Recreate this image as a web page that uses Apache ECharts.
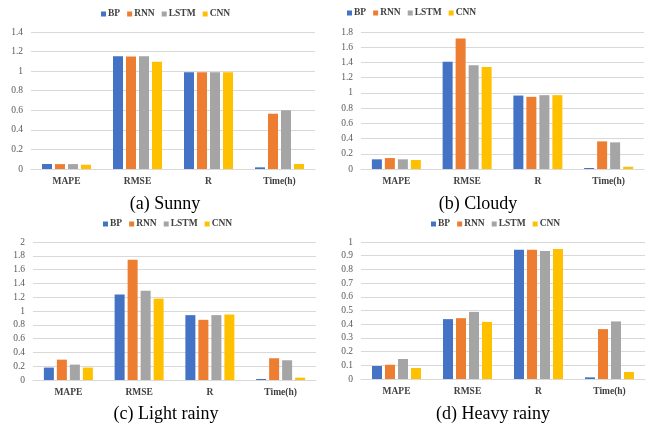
<!DOCTYPE html>
<html><head><meta charset="utf-8">
<script src="https://cdn.jsdelivr.net/npm/echarts@6/dist/echarts.min.js"></script>
<style>html,body{margin:0;padding:0;background:#fff}#c{width:648px;height:425px}</style>
</head><body><div id="c"></div>
<script>
const categories = ['MAPE', 'RMSE', 'R', 'Time(h)'];
const models = ['BP', 'RNN', 'LSTM', 'CNN'];
const colors = ['#4472C4', '#ED7D31', '#A5A5A5', '#FFC000'];
const panelTitles = ['(a) Sunny', '(b) Cloudy', '(c) Light rainy', '(d) Heavy rainy'];

// values per panel: [BP, RNN, LSTM, CNN], each over categories
const sunnyBP   = [0.051, 1.151, 0.988, 0.017];
const sunnyRNN  = [0.050, 1.150, 0.988, 0.565];
const sunnyLSTM = [0.050, 1.152, 0.988, 0.600];
const sunnyCNN  = [0.044, 1.097, 0.988, 0.051];

const cloudyBP   = [0.127, 1.410, 0.965, 0.013];
const cloudyRNN  = [0.144, 1.713, 0.948, 0.363];
const cloudyLSTM = [0.127, 1.363, 0.970, 0.350];
const cloudyCNN  = [0.118, 1.341, 0.970, 0.030];

const lightBP   = [0.180, 1.240, 0.940, 0.015];
const lightRNN  = [0.295, 1.743, 0.872, 0.315];
const lightLSTM = [0.223, 1.293, 0.940, 0.286];
const lightCNN  = [0.180, 1.180, 0.949, 0.034];

const heavyBP   = [0.095, 0.437, 0.944, 0.012];
const heavyRNN  = [0.104, 0.444, 0.944, 0.364];
const heavyLSTM = [0.146, 0.490, 0.934, 0.420];
const heavyCNN  = [0.080, 0.417, 0.949, 0.051];

const yMax = [1.4, 1.8, 2, 1];
const yInterval = [0.2, 0.2, 0.2, 0.1];

const panels = [
  [sunnyBP, sunnyRNN, sunnyLSTM, sunnyCNN],
  [cloudyBP, cloudyRNN, cloudyLSTM, cloudyCNN],
  [lightBP, lightRNN, lightLSTM, lightCNN],
  [heavyBP, heavyRNN, heavyLSTM, heavyCNN]
];

const serif = '"Liberation Serif", "Times New Roman", serif';
const grids = [
  {left: 31, right: 333, top: 32, bottom: 256},
  {left: 361, right: 4, top: 32, bottom: 256},
  {left: 33, right: 332, top: 242, bottom: 45},
  {left: 361, right: 3, top: 242, bottom: 46}
];
const legendPos = [{x: 96, y: 4}, {x: 342, y: 3}, {x: 98, y: 214}, {x: 426, y: 214}];
const titlePos = [{x: 160, y: 190}, {x: 473, y: 190}, {x: 161, y: 400}, {x: 488, y: 400}];

const option = {
  animation: false,
  color: colors,
  title: panelTitles.map((t, i) => ({
    text: t, left: titlePos[i].x, top: titlePos[i].y, textAlign: 'center',
    textStyle: {fontFamily: serif, fontWeight: 'normal', fontSize: 18, color: '#000'}
  })),
  legend: legendPos.map((p, i) => ({
    data: models, left: p.x, top: p.y, itemWidth: 5, itemHeight: 5, itemGap: 7,
    icon: 'rect', selectedMode: false, orient: 'horizontal',
    textStyle: {fontFamily: serif, fontWeight: 'bold', fontSize: 9.5, color: '#404040', padding: [0, 0, 0, -3]}
  })),
  grid: grids,
  xAxis: grids.map((g, i) => ({
    type: 'category', gridIndex: i, data: categories,
    axisTick: {show: false},
    axisLine: {lineStyle: {color: '#D9D9D9'}},
    axisLabel: {fontFamily: serif, fontWeight: 'bold', fontSize: 9.5, color: '#404040', margin: 8}
  })),
  yAxis: grids.map((g, i) => ({
    type: 'value', gridIndex: i, min: 0, max: yMax[i], interval: yInterval[i],
    axisLine: {show: false}, axisTick: {show: false},
    splitLine: {lineStyle: {color: '#D9D9D9'}},
    axisLabel: {fontFamily: serif, fontSize: 9.5, color: '#595959', margin: 8,
      formatter: v => String(Math.round(v * 10) / 10)}
  })),
  series: []
};
panels.forEach((vals, i) => {
  vals.forEach((arr, j) => {
    option.series.push({
      type: 'bar', name: models[j], xAxisIndex: i, yAxisIndex: i, data: arr,
      barWidth: 10, barGap: '30%',
      itemStyle: {color: colors[j]}
    });
  });
});
const chart = echarts.init(document.getElementById('c'), null, {renderer: 'canvas'});
chart.setOption(option);
</script></body></html>
